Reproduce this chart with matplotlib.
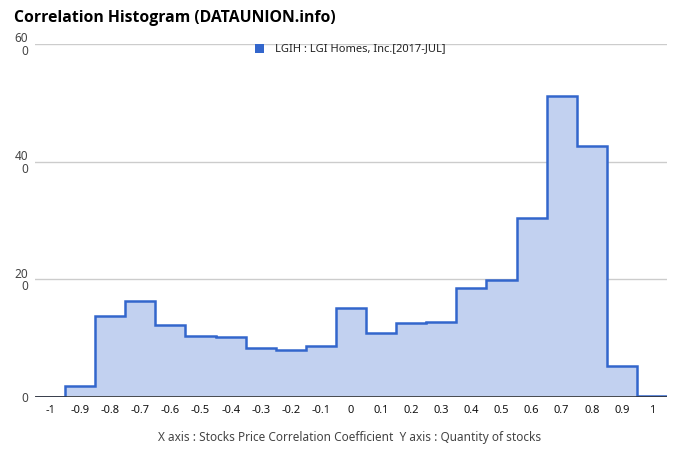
import matplotlib
matplotlib.use("Agg")
import matplotlib.pyplot as plt
from matplotlib.patches import Rectangle
import numpy as np

plt.rcParams['font.family'] = ['Noto Sans', 'DejaVu Sans']

bin_centers = [-1.0, -0.9, -0.8, -0.7, -0.6, -0.5, -0.4, -0.3, -0.2, -0.1, 0.0,
               0.1, 0.2, 0.3, 0.4, 0.5, 0.6, 0.7, 0.8, 0.9, 1.0]
counts = [0, 1.8, 13.8, 16.4, 12.3, 10.4, 10.2, 8.4, 8.0, 8.6, 15.1,
          10.9, 12.6, 12.7, 18.5, 19.9, 30.4, 51.2, 42.6, 5.2, 0.1]
x_tick_labels = ['-1', '-0.9', '-0.8', '-0.7', '-0.6', '-0.5', '-0.4', '-0.3', '-0.2', '-0.1', '0',
                 '0.1', '0.2', '0.3', '0.4', '0.5', '0.6', '0.7', '0.8', '0.9', '1']
y_ticks = [0, 20, 40, 60]
y_tick_labels = ['0', '20\n0', '40\n0', '60\n0']
title = 'Correlation Histogram (DATAUNION.info)'
legend_label = 'LGIH : LGI Homes, Inc.[2017-JUL]'
axis_text = 'X axis : Stocks Price Correlation Coefficient  Y axis : Quantity of stocks'

W, H = 680, 462
fig = plt.figure(figsize=(W / 100, H / 100), dpi=100)
ax = fig.add_axes([35 / W, 65 / H, 632 / W, 353 / H])

centers = np.array(bin_centers)
edges = np.concatenate([centers - 0.05, [centers[-1] + 0.05]])

ax.stairs(counts, edges, fill=True, color='#c2d1f0', zorder=2)
ax.stairs(counts, edges, color='#3366cc', linewidth=1.8, zorder=3)

ax.set_xlim(-1.05, 1.05)
ax.set_ylim(0, 60)

for s in ax.spines.values():
    s.set_visible(False)
for yv in y_ticks[1:]:
    ax.axhline(yv, color='#cccccc', linewidth=1, zorder=1)
ax.axhline(0, color='#333333', linewidth=1.2, zorder=4)

ax.set_xticks(bin_centers)
ax.set_xticklabels(x_tick_labels, fontsize=8, color='#111111')
ax.set_yticks(y_ticks)
ax.set_yticklabels(y_tick_labels, fontsize=8.5, color='#444444', linespacing=0.95)
ax.tick_params(axis='both', length=0)
ax.tick_params(axis='x', pad=6)
ax.tick_params(axis='y', pad=5)

fig.text(14 / W, 1 - 18 / H, title, fontsize=11.3, fontweight='bold', color='#000000',
         ha='left', va='center', family=['Open Sans', 'DejaVu Sans'])

fig.patches.append(Rectangle((255 / W, 1 - 53 / H), 9 / W, 9 / H, transform=fig.transFigure,
                             facecolor='#3366cc', edgecolor='none'))
fig.text(275 / W, 1 - 49 / H, legend_label, fontsize=8, color='#222222', ha='left', va='center')

fig.text(350 / W, 1 - 437 / H, axis_text, fontsize=8.5, color='#444444', ha='center', va='center')

fig.savefig('out.png', dpi=100, facecolor='white')
